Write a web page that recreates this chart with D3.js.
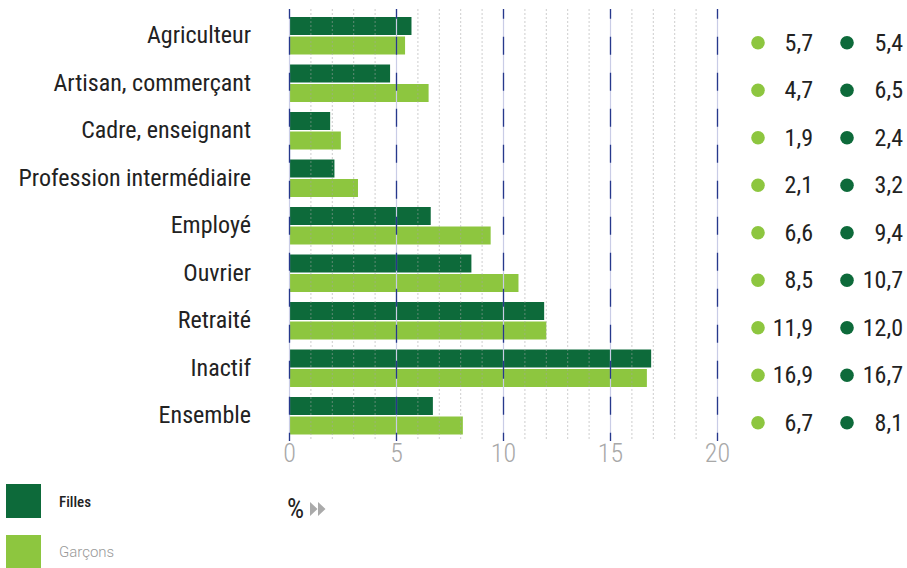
<!DOCTYPE html>
<head>
<meta charset="utf-8">
<style>
  body { margin: 0; background: #fff; }
  svg { display: block; }
  .cat { font: 24px "Roboto Condensed", Roboto, sans-serif; fill: #222; }
  .val { font: 24px "Roboto Condensed", Roboto, sans-serif; fill: #222; }
  .tick-lbl { font: 300 26px "Roboto Condensed", Roboto, sans-serif; fill: #a8a8a8; }
</style>
</head>
<body>
<script src="https://cdnjs.cloudflare.com/ajax/libs/d3/7.8.5/d3.min.js"></script>
<script>
var categories = ["Agriculteur", "Artisan, commerçant", "Cadre, enseignant", "Profession intermédiaire",
                  "Employé", "Ouvrier", "Retraité", "Inactif", "Ensemble"];
var filles  = [5.7, 4.7, 1.9, 2.1, 6.6, 8.5, 11.9, 16.9, 6.7];
var garcons = [5.4, 6.5, 2.4, 3.2, 9.4, 10.7, 12.0, 16.7, 8.1];
var ticks = [0, 5, 10, 15, 20];
var seriesNames = ["Filles", "Garçons"];

var dark = "#0d6a3a", light = "#8dc63f";
var W = 907, H = 568;

var svg = d3.select("body").append("svg").attr("width", W).attr("height", H);

var x = d3.scaleLinear().domain([0, 20]).range([289.5, 717.5]);
var y = d3.scaleBand().domain(categories).range([17, 17 + 47.5 * 9]);
var barH = 18;

// bars
var g = svg.append("g");
g.selectAll(".bar-f").data(categories).enter().append("rect")
    .attr("x", x(0))
    .attr("y", function(d) { return y(d); })
    .attr("width", function(d, i) { return x(filles[i]) - x(0); })
    .attr("height", barH)
    .attr("fill", dark);
g.selectAll(".bar-g").data(categories).enter().append("rect")
    .attr("x", x(0))
    .attr("y", function(d) { return y(d) + 19.5; })
    .attr("width", function(d, i) { return x(garcons[i]) - x(0); })
    .attr("height", barH)
    .attr("fill", light);

// grid on top
var y0 = 9, y1 = 441;
var minor = d3.range(1, 20).filter(function(v) { return v % 5 != 0; });
svg.append("g").selectAll("line").data(minor).enter().append("line")
    .attr("x1", function(d) { return x(d); }).attr("x2", function(d) { return x(d); })
    .attr("y1", y0).attr("y2", y1)
    .attr("stroke", "#a5a5a5").attr("stroke-opacity", 0.55)
    .attr("stroke-dasharray", "2,2");
var major = svg.append("g");
major.selectAll(".m1").data(ticks).enter().append("line")
    .attr("x1", function(d) { return x(d); }).attr("x2", function(d) { return x(d); })
    .attr("y1", y0).attr("y2", y1)
    .attr("stroke", "#c9cce6").attr("stroke-width", 1.2);
major.selectAll(".m2").data(ticks).enter().append("line")
    .attr("x1", function(d) { return x(d); }).attr("x2", function(d) { return x(d); })
    .attr("y1", y0).attr("y2", y1)
    .attr("stroke", "#26388c").attr("stroke-width", 1.3)
    .attr("stroke-dasharray", "18,18").attr("stroke-dashoffset", 8.3);

// x tick labels
svg.append("g").selectAll("text").data(ticks).enter().append("text")
    .attr("class", "tick-lbl")
    .attr("x", function(d) { return x(d); })
    .attr("y", 462)
    .attr("text-anchor", "middle")
    .text(function(d) { return d; });

// category labels
svg.append("g").selectAll("text").data(categories).enter().append("text")
    .attr("class", "cat")
    .attr("x", 251)
    .attr("y", function(d) { return y(d) + 26; })
    .attr("text-anchor", "end")
    .text(function(d) { return d; });

// right value columns
var fmt = function(v) { return d3.format(".1f")(v).replace(".", ","); };
var cols = [{dot: light, vals: filles, cx: 758, tx: 813},
            {dot: dark, vals: garcons, cx: 847, tx: 903}];
cols.forEach(function(c) {
  var cg = svg.append("g");
  cg.selectAll("circle").data(categories).enter().append("circle")
      .attr("cx", c.cx).attr("cy", function(d) { return y(d) + 25.7; })
      .attr("r", 6.8).attr("fill", c.dot);
  cg.selectAll("text").data(categories).enter().append("text")
      .attr("class", "val")
      .attr("x", c.tx).attr("y", function(d) { return y(d) + 33.7; })
      .attr("text-anchor", "end")
      .text(function(d, i) { return fmt(c.vals[i]); });
});

// % unit with arrows
svg.append("text").attr("x", 287).attr("y", 518)
    .style("font", "27px 'Roboto Condensed', Roboto, sans-serif").attr("fill", "#222").text("%");
svg.append("path").attr("d", "M310,502 L317.5,509 L310,516 Z M318,502 L325.5,509 L318,516 Z").attr("fill", "#aaa");

// legend
var leg = svg.append("g");
leg.selectAll("rect").data(seriesNames).enter().append("rect")
    .attr("x", 6).attr("y", function(d, i) { return 484 + i * 51; })
    .attr("width", 35).attr("height", 34)
    .attr("fill", function(d, i) { return i == 0 ? dark : light; });
leg.selectAll("text").data(seriesNames).enter().append("text")
    .attr("x", 59).attr("y", function(d, i) { return 507 + i * 50; })
    .style("font", function(d, i) {
      return i == 0 ? "500 15px 'Roboto Condensed', Roboto, sans-serif" : "300 15px Roboto, sans-serif";
    })
    .attr("fill", function(d, i) { return i == 0 ? "#222" : "#999"; })
    .text(function(d) { return d; });
</script>
</body>
